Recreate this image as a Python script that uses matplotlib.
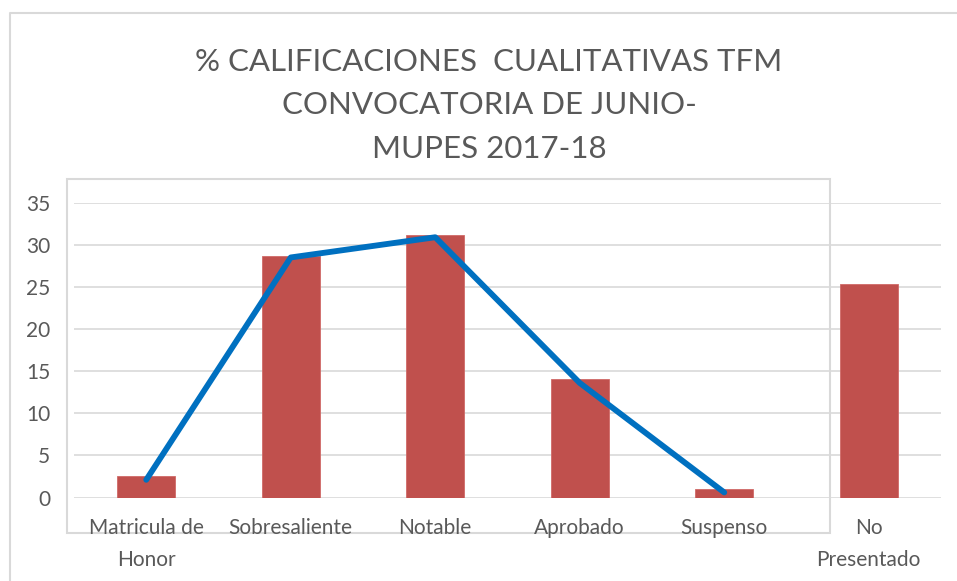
import matplotlib

matplotlib.use("Agg")
import matplotlib.pyplot as plt
from matplotlib.lines import Line2D
from matplotlib.patches import Rectangle

# data
categories = ["Matricula de\nHonor", "Sobresaliente", "Notable", "Aprobado", "Suspenso", "No\nPresentado"]
bar_values = [2.5, 28.7, 31.2, 14.1, 1.0, 25.4]
line_values = [2.1, 28.5, 30.9, 13.6, 0.6]
y_ticks = [0, 5, 10, 15, 20, 25, 30, 35]
title_lines = ["% CALIFICACIONES  CUALITATIVAS TFM", "CONVOCATORIA DE JUNIO-", "MUPES 2017-18"]

W, H = 957, 581
TEXT = "#595959"
GRID = "#D9D9D9"
FONT = ["Lato", "DejaVu Sans"]

fig = plt.figure(figsize=(W / 100, H / 100), dpi=100)
fig.patch.set_facecolor("white")

# plot area in pixels: x 74..941, value 0 at y=497.5, 35 at y=202.7
x0, x1, y0, y1 = 74, 941, 497.5, 202.7
ax = fig.add_axes([x0 / W, 1 - y0 / H, (x1 - x0) / W, (y0 - y1) / H])

xs = list(range(len(categories)))
ax.bar(xs, bar_values, width=0.4, color="#C0504D", edgecolor="#D06A67", linewidth=0.6, zorder=2)
ax.plot(xs[:len(line_values)], line_values, color="#0070C0", lw=4.2,
        solid_capstyle="round", solid_joinstyle="round", zorder=3)

ax.set_xlim(-0.5, len(categories) - 0.5)
ax.set_ylim(0, 35)
ax.set_yticks(y_ticks)
ax.set_xticks(xs)
ax.set_xticklabels(categories, linespacing=1.7)
ax.yaxis.grid(True, color=GRID, lw=1.2, zorder=0)
ax.set_axisbelow(True)
for s in ax.spines.values():
    s.set_visible(False)
ax.tick_params(axis="both", length=0, colors=TEXT, labelsize=15)
ax.tick_params(axis="y", pad=17)
ax.tick_params(axis="x", pad=15)
for lab in ax.get_xticklabels() + ax.get_yticklabels():
    lab.set_family(FONT)
    lab.set_color(TEXT)
ax.patch.set_alpha(0)

# title, three centred lines
for txt, base in zip(title_lines, [71, 114, 158]):
    fig.text(489 / W, 1 - base / H, txt, ha="center", va="baseline",
             fontsize=22.5, color=TEXT, family=FONT, fontweight="normal")

# outer chart border (left and top) and inner frame
fig.add_artist(Line2D([10 / W, 10 / W, 1], [0, 1 - 13 / H, 1 - 13 / H],
                      transform=fig.transFigure, color=GRID, lw=1.5))
fig.add_artist(Rectangle((67.3 / W, 1 - 533 / H), (830 - 67.3) / W, (533 - 178.5) / H,
                         transform=fig.transFigure, fill=False, edgecolor=GRID, lw=1.5, zorder=-1))

fig.savefig("out.png", dpi=100, facecolor="white")
